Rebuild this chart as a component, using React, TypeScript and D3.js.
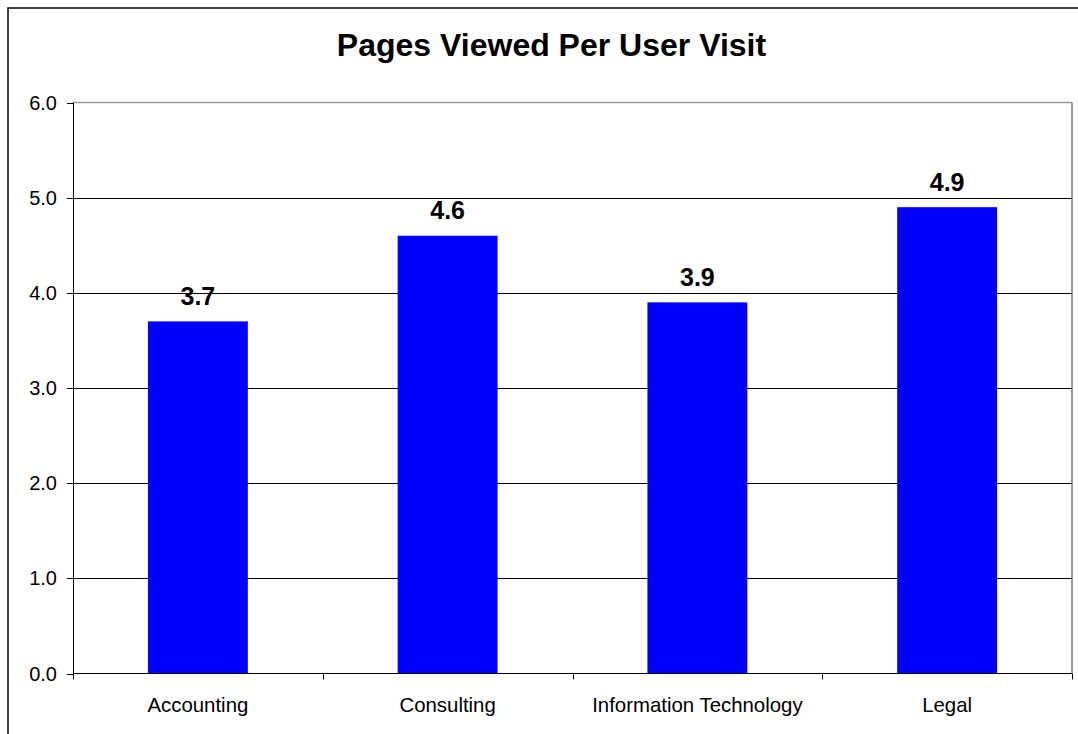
import React from "react";
import * as d3 from "d3";

const categories = ["Accounting", "Consulting", "Information Technology", "Legal"];
const values = [3.7, 4.6, 3.9, 4.9];
const yTicks = [0, 1, 2, 3, 4, 5, 6];
const title = "Pages Viewed Per User Visit";

const W = 1078;
const H = 734;
const plot = { left: 73, right: 1072, top: 102.5, bottom: 673.5 };
const FONT = "'Liberation Sans', Arial, Helvetica, sans-serif";

export default function App() {
  const x = d3
    .scaleBand<string>()
    .domain(categories)
    .range([plot.left, plot.right])
    .paddingInner(0.6)
    .paddingOuter(0.3);
  const y = d3.scaleLinear().domain([0, 6]).range([plot.bottom, plot.top]);
  const step = x.step();
  const boundaries = d3.range(categories.length + 1).map((i) => plot.left + i * step);

  return (
    <div style={{ position: "absolute", left: 0, top: 0, width: W, height: H, background: "#fff" }}>
      <svg width={W} height={H} style={{ display: "block" }} fontFamily={FONT}>
        <rect x={0} y={0} width={W} height={H} fill="#fff" />
        {/* outer chart border */}
        <rect x={8} y={8} width={1200} height={900} fill="none" stroke="#000" strokeWidth={1.5} />
        {/* title */}
        <text x={551.5} y={56} textAnchor="middle" fontSize={32} fontWeight="bold" fill="#000">
          {title}
        </text>
        {/* plot area border (gray) */}
        <line x1={plot.left} x2={plot.right} y1={plot.top} y2={plot.top} stroke="#999" strokeWidth={1.5} />
        <line x1={plot.right} x2={plot.right} y1={plot.top} y2={plot.bottom} stroke="#999" strokeWidth={2} />
        {/* gridlines */}
        {yTicks
          .filter((t) => t > 0 && t < 6)
          .map((t) => (
            <line
              key={"g" + t}
              x1={plot.left}
              x2={plot.right}
              y1={Math.round(y(t)) + 0.5}
              y2={Math.round(y(t)) + 0.5}
              stroke="#000"
              strokeWidth={1}
            />
          ))}
        {/* bars */}
        {categories.map((c, i) => (
          <rect
            key={"b" + c}
            x={x(c)}
            y={y(values[i])}
            width={x.bandwidth()}
            height={y(0) - y(values[i])}
            fill="#0000ff"
          />
        ))}
        {/* data labels */}
        {categories.map((c, i) => (
          <text
            key={"l" + c}
            x={(x(c) as number) + x.bandwidth() / 2}
            y={y(values[i]) - 16.5}
            textAnchor="middle"
            fontSize={25}
            fontWeight="bold"
            fill="#000"
          >
            {values[i].toFixed(1)}
          </text>
        ))}
        {/* y axis */}
        <line x1={plot.left + 0.5} x2={plot.left + 0.5} y1={plot.top} y2={plot.bottom} stroke="#000" strokeWidth={1} />
        {yTicks.map((t) => (
          <g key={"yt" + t}>
            <line
              x1={plot.left - 6}
              x2={plot.left}
              y1={Math.round(y(t)) + 0.5}
              y2={Math.round(y(t)) + 0.5}
              stroke="#000"
              strokeWidth={1}
            />
            <text x={57} y={y(t)} dy="0.35em" textAnchor="end" fontSize={20} fill="#000">
              {t.toFixed(1)}
            </text>
          </g>
        ))}
        {/* x axis */}
        <line x1={plot.left} x2={plot.right} y1={plot.bottom} y2={plot.bottom} stroke="#000" strokeWidth={1.2} />
        {boundaries.map((b, i) => (
          <line
            key={"xt" + i}
            x1={Math.round(b) + 0.5}
            x2={Math.round(b) + 0.5}
            y1={plot.bottom}
            y2={plot.bottom + 6}
            stroke="#000"
            strokeWidth={1}
          />
        ))}
        {categories.map((c) => (
          <text
            key={"xl" + c}
            x={(x(c) as number) + x.bandwidth() / 2}
            y={712}
            textAnchor="middle"
            fontSize={20.4}
            fill="#000"
          >
            {c}
          </text>
        ))}
      </svg>
    </div>
  );
}
